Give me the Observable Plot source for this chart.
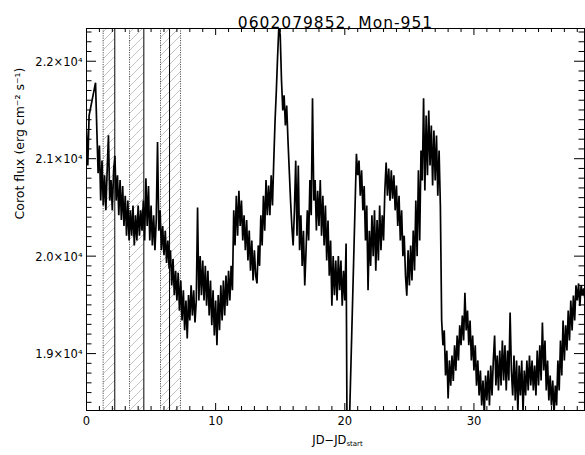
<!DOCTYPE html>
<html><head><meta charset="utf-8">
<script src="https://cdn.jsdelivr.net/npm/d3@7"></script>
<script src="https://cdn.jsdelivr.net/npm/@observablehq/plot@0.6"></script>
<style>body{margin:0;background:#fff} svg{display:block}</style>
</head><body><div id="chart"></div>
<script>
const title = "0602079852, Mon-951";
const xLabel = "JD−JD";
const xLabelSub = "start";
const yLabel = "Corot flux (erg cm⁻² s⁻¹)";
const cadence = 0.1; // days between samples, starting at JD-JDstart = 0
const flux = [
21289,20930,21443,null,null,null,null,21780,21300,20850,
21135,20570,20980,20520,20830,20470,20880,21240,20570,20780,
20470,20880,21030,20570,20830,20420,20780,20370,20720,20310,
20620,20210,20570,20160,20470,20210,20520,20110,20420,20160,
20520,20210,20470,20260,20570,20160,20800,20310,20720,20160,
20520,20110,20420,20060,20370,21170,20260,20470,20060,20310,
20010,20260,19930,20160,19870,20060,19700,19970,19600,19850,
19545,19830,19440,19750,19340,19650,19240,19545,19155,19600,
19340,19700,19390,19650,19320,19545,20500,19545,20000,19600,
19955,19545,19900,19490,19850,19390,19750,19290,19650,19185,
19545,19085,19600,19240,19700,19340,19750,19390,19800,19490,
19850,19545,19900,19650,20470,20110,20620,20210,20670,20310,
20570,20160,20420,20060,20370,19955,20263,19850,20160,19750,
20060,19800,19720,20110,19900,20420,20110,20620,20260,20780,
20420,20725,20420,20830,20520,20980,21390,21700,22060,22370,
22265,21800,21494,21650,21340,21545,21190,20880,20570,20310,
20110,20470,20980,20210,20930,20060,20420,19900,20260,19700,
20060,20470,20160,20780,20420,21620,20570,20780,20263,20670,
20310,20780,20210,20620,20110,20520,19955,20366,19800,20160,
19490,20000,19600,19955,19545,20000,19650,19955,19490,19850,
19545,20130,17480,null,null,null,null,null,null,21050,
20830,20980,20620,20880,20470,20720,20160,20520,19650,20260,
19900,20420,20000,20470,19850,20370,19955,20520,20060,20420,
20160,20670,20960,20620,20900,20570,20880,20590,20830,20470,
20725,20310,20620,20160,20470,20000,20210,19800,19595,20060,
19700,20110,19750,20263,19853,20570,20000,20880,20160,21084,
20776,21620,20674,21443,20830,21494,20930,21340,20725,21290,
20776,21238,20620,21084,20520,19340,19085,19240,18775,19030,
18540,18930,18670,18980,18720,19085,18825,19185,18930,19290,
19085,19390,19135,19625,19237,19442,19085,19340,18930,19185,
18827,19085,18670,18930,18570,18827,18467,18724,18380,18775,
18519,18827,18467,18878,18570,18929,19185,18673,18980,18622,
19032,18673,19135,18724,19085,18622,19032,18724,19422,18827,
18570,18980,18519,18929,18390,18878,18570,18929,18400,18827,
18570,18929,18622,18980,18673,18929,18622,18878,18570,19032,
18673,19085,18724,19320,18827,19135,18622,18929,18519,18775,
18467,18724,18380,18673,18467,18929,18622,19135,18775,19340,
18929,19290,19032,19442,19135,19545,19237,19595,19340,19700,
19545,19720,19490,19700,19600,19670,19545
];
const xDomain = [0, 38.56];
const yDomain = [18416, 22336];
const xMajorTicks = [0, 10, 20, 30];
const xMajorLabels = ["0", "10", "20", "30"];
const yMajorTicks = [19000, 20000, 21000, 22000];
const yMajorLabels = ["1.9×10⁴", "2.0×10⁴", "2.1×10⁴", "2.2×10⁴"];
const hatchStart = [1.29, 3.33, 5.73];
const hatchEnd = [2.19, 4.44, 7.28];
const dottedLines = [1.29, 3.33, 5.73, 7.28];
const solidLines = [2.19, 4.44, 6.43];

const W = 585, H = 455, mL = 86, mR = 1, mT = 28, mB = 45;
const frameW = W - mL - mR, frameH = H - mT - mB;
const xMinor = d3.range(1, 39).filter(d => d % 10 !== 0);
const yMinor = d3.range(18500, 22400, 100).filter(d => d % 1000 !== 0);

const series = flux.map((f, i) => ({t: i * cadence, f})).filter(d => d.f != null);
const hatch = hatchStart.map((s, i) => ({s, e: hatchEnd[i]}));
const font = "DejaVu Sans";

const svg = Plot.plot({
  width: W, height: H,
  marginLeft: mL, marginRight: mR, marginTop: mT, marginBottom: mB,
  style: {fontFamily: font, background: "white"},
  x: {domain: xDomain, axis: null},
  y: {domain: yDomain, axis: null},
  marks: [
    Plot.rect(hatch, {x1: "s", x2: "e", fill: "url(#hatch)"}),
    Plot.ruleX(dottedLines, {x: d => d, stroke: "#555", strokeDasharray: "1.2,1.2"}),
    Plot.ruleX(solidLines, {x: d => d, stroke: "black"}),
    Plot.line(series, {x: "t", y: "f", stroke: "black", strokeWidth: 1.7, strokeLinejoin: "miter", strokeMiterlimit: 2, clip: true}),
    Plot.frame({stroke: "black"}),
    // ticks (inward, mirrored)
    Plot.ruleX(xMajorTicks, {x: d => d, insetTop: frameH - 7, stroke: "black"}),
    Plot.ruleX(xMajorTicks, {x: d => d, insetBottom: frameH - 7, stroke: "black"}),
    Plot.ruleX(xMinor, {x: d => d, insetTop: frameH - 4, stroke: "black"}),
    Plot.ruleX(xMinor, {x: d => d, insetBottom: frameH - 4, stroke: "black"}),
    Plot.ruleY(yMajorTicks, {y: d => d, insetRight: frameW - 10, stroke: "black"}),
    Plot.ruleY(yMajorTicks, {y: d => d, insetLeft: frameW - 10, stroke: "black"}),
    Plot.ruleY(yMinor, {y: d => d, insetRight: frameW - 5.5, stroke: "black"}),
    Plot.ruleY(yMinor, {y: d => d, insetLeft: frameW - 5.5, stroke: "black"}),
    // tick labels
    Plot.text(xMajorTicks, {x: d => d, text: (d, i) => xMajorLabels[i], frameAnchor: "bottom", dy: 14, fontSize: 11.5, fill: "black"}),
    Plot.text(yMajorTicks, {y: d => d, text: (d, i) => yMajorLabels[i], frameAnchor: "left", dx: -4, dy: 1, textAnchor: "end", fontSize: 11.5, fill: "black"}),
    // titles
    Plot.text([title], {text: d => d, frameAnchor: "top", dy: -12, fontSize: 15.5, fill: "black"}),
    Plot.text([xLabel], {text: d => d, frameAnchor: "bottom", dy: 33, dx: 2, fontSize: 11.5, fill: "black"}),
    Plot.text([yLabel], {text: d => d, frameAnchor: "left", dx: -67, rotate: -90, fontSize: 12.5, fill: "black"})
  ]
});

const ns = "http://www.w3.org/2000/svg";
const defs = document.createElementNS(ns, "defs");
defs.innerHTML = '<pattern id="hatch" patternUnits="userSpaceOnUse" width="9" height="9"><path d="M-2,2 L2,-2 M0,9 L9,0 M7,11 L11,7" stroke="#b4b4b4" stroke-width="0.8"/></pattern>';
svg.insertBefore(defs, svg.firstChild);

d3.select(svg).selectAll("text").each(function () {
  if (this.textContent === title) this.setAttribute("letter-spacing", "1");
  if (this.textContent === xLabel) {
    const ts = document.createElementNS(ns, "tspan");
    ts.setAttribute("dy", "2.5");
    ts.setAttribute("font-size", "7");
    ts.textContent = xLabelSub;
    this.appendChild(ts);
  }
});

document.getElementById("chart").appendChild(svg);
</script>
</body></html>
